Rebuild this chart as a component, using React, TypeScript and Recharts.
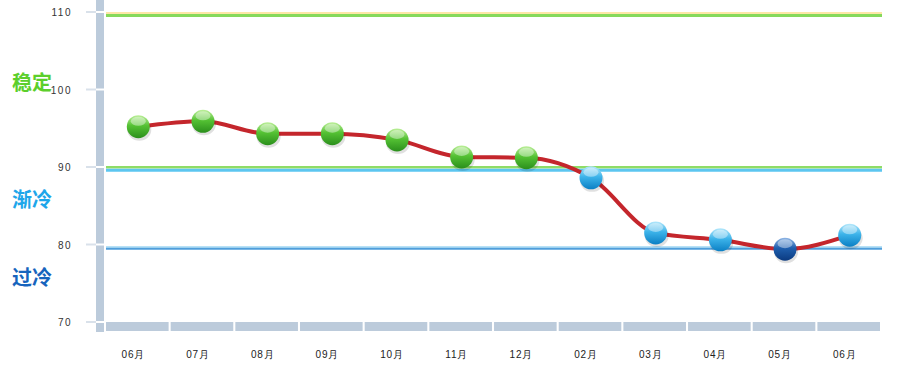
import { ComposedChart, Line, ReferenceLine, XAxis, YAxis } from 'recharts'

const months = ['06月', '07月', '08月', '09月', '10月', '11月', '12月', '02月', '03月', '04月', '05月', '06月']
const scores = [95.2, 95.9, 94.3, 94.3, 93.5, 91.3, 91.2, 88.6, 81.5, 80.6, 79.4, 81.2]
const yTicks = [70, 80, 90, 100, 110]
const zoneNames = ['稳定', '渐冷', '过冷']
const zoneTicks = [100, 90, 80]

const data = months.map((month, i) => ({ key: i, month, score: scores[i] }))

const BAR = '#bccbdb'
const zoneColors = ['#5ccf2b', '#1ea6ea', '#1764bd']
const zoneOffsets = [-7, 33, 33]

const dotFill = (v: number) => (v >= 90 ? 'url(#gGreen)' : v >= 80 ? 'url(#gLight)' : 'url(#gDark)')

const YTick = ({ x, y, payload }: any) => {
  const zi = zoneTicks.indexOf(payload.value)
  const top = Math.max(0, y - 76.5)
  return (
    <g>
      <rect x={x - 10} y={top} width={8} height={y - 1 - top} fill={BAR} />
      {payload.value === 70 && <rect x={x - 10} y={y + 1} width={8} height={9} fill={BAR} />}
      <line x1={x - 20} x2={x - 10} y1={y} y2={y} stroke="#d9e1ea" strokeWidth={2} />
      <text x={x - 34} y={y + 4} textAnchor="end" fontSize={10} letterSpacing={1.5} fill="#333" fontFamily="Liberation Sans, Arial, sans-serif">
        {payload.value}
      </text>
      {zi >= 0 && (
        <text x={12} y={y + zoneOffsets[zi] + 7} fontSize={20} fontWeight="bold" fill={zoneColors[zi]} fontFamily="Noto Sans CJK SC, sans-serif">
          {zoneNames[zi]}
        </text>
      )}
    </g>
  )
}

const XTick = ({ x, y, payload }: any) => (
  <g>
    <rect x={x - 32.3} y={y} width={62.6} height={9} fill={BAR} />
    <text x={x - 5} y={y + 36} textAnchor="middle" fontSize={10} letterSpacing={0.8} fill="#222" fontFamily="Liberation Sans, Arial, sans-serif">
      {months[payload.value]}
    </text>
  </g>
)

const bandLine = (parts: { dy: number; w: number; c: string }[]) => (p: any) => (
  <g>
    {parts.map((s, i) => (
      <line key={i} x1={p.x1} x2={p.x2} y1={p.y1 + s.dy} y2={p.y2 + s.dy} stroke={s.c} strokeWidth={s.w} />
    ))}
  </g>
)

const Ball = ({ cx, cy, payload }: any) => {
  if (cx == null || cy == null) return null
  return (
    <g>
      <ellipse cx={cx + 1} cy={cy + 3} rx={12} ry={11} fill="rgba(0,0,0,0.12)" />
      <circle cx={cx} cy={cy} r={11.5} fill={dotFill(payload.score)} />
      <ellipse cx={cx} cy={cy - 5.5} rx={7.5} ry={4.5} fill="rgba(255,255,255,0.4)" />
    </g>
  )
}

export default function App() {
  return (
    <div style={{ position: 'absolute', left: 0, top: 0, width: 904, height: 374, background: '#fff' }}>
      <ComposedChart width={904} height={374} data={data} margin={{ top: 12, right: 22, bottom: 0, left: 0 }}>
        <defs>
          <linearGradient id="gGreen" x1="0" y1="0" x2="0" y2="1">
            <stop offset="0%" stopColor="#bdf09a" />
            <stop offset="45%" stopColor="#55c234" />
            <stop offset="100%" stopColor="#2b8f1c" />
          </linearGradient>
          <linearGradient id="gLight" x1="0" y1="0" x2="0" y2="1">
            <stop offset="0%" stopColor="#b5e8fb" />
            <stop offset="45%" stopColor="#3db4ea" />
            <stop offset="100%" stopColor="#0b7fc4" />
          </linearGradient>
          <linearGradient id="gDark" x1="0" y1="0" x2="0" y2="1">
            <stop offset="0%" stopColor="#8fb6e6" />
            <stop offset="45%" stopColor="#1f5fae" />
            <stop offset="100%" stopColor="#0b3a80" />
          </linearGradient>
        </defs>
        <XAxis dataKey="key" type="category" axisLine={false} tickLine={false} tickSize={0} tickMargin={0} height={52} interval={0} padding={{ left: 32.3, right: 32.3 }} tick={<XTick />} />
        <YAxis type="number" domain={[70, 110]} ticks={yTicks} interval={0} width={106} axisLine={false} tickLine={false} tickSize={0} tickMargin={0} tick={<YTick />} />
        <ReferenceLine y={110} ifOverflow="visible" shape={bandLine([{ dy: 1, w: 2, c: '#fde7a6' }, { dy: 3.5, w: 3, c: '#86d95c' }])} />
        <ReferenceLine y={90} ifOverflow="visible" shape={bandLine([{ dy: 0.3, w: 2.5, c: '#8fdc66' }, { dy: 3.2, w: 3, c: '#5cc6f0' }])} />
        <ReferenceLine y={80} ifOverflow="visible" shape={bandLine([{ dy: 2.5, w: 1.5, c: '#9fd7f3' }, { dy: 4.2, w: 2, c: '#4f9edb' }])} />
        <Line type="monotone" dataKey="score" stroke="#c4262c" strokeWidth={4} dot={<Ball />} activeDot={false} isAnimationActive={false} />
      </ComposedChart>
    </div>
  )
}
